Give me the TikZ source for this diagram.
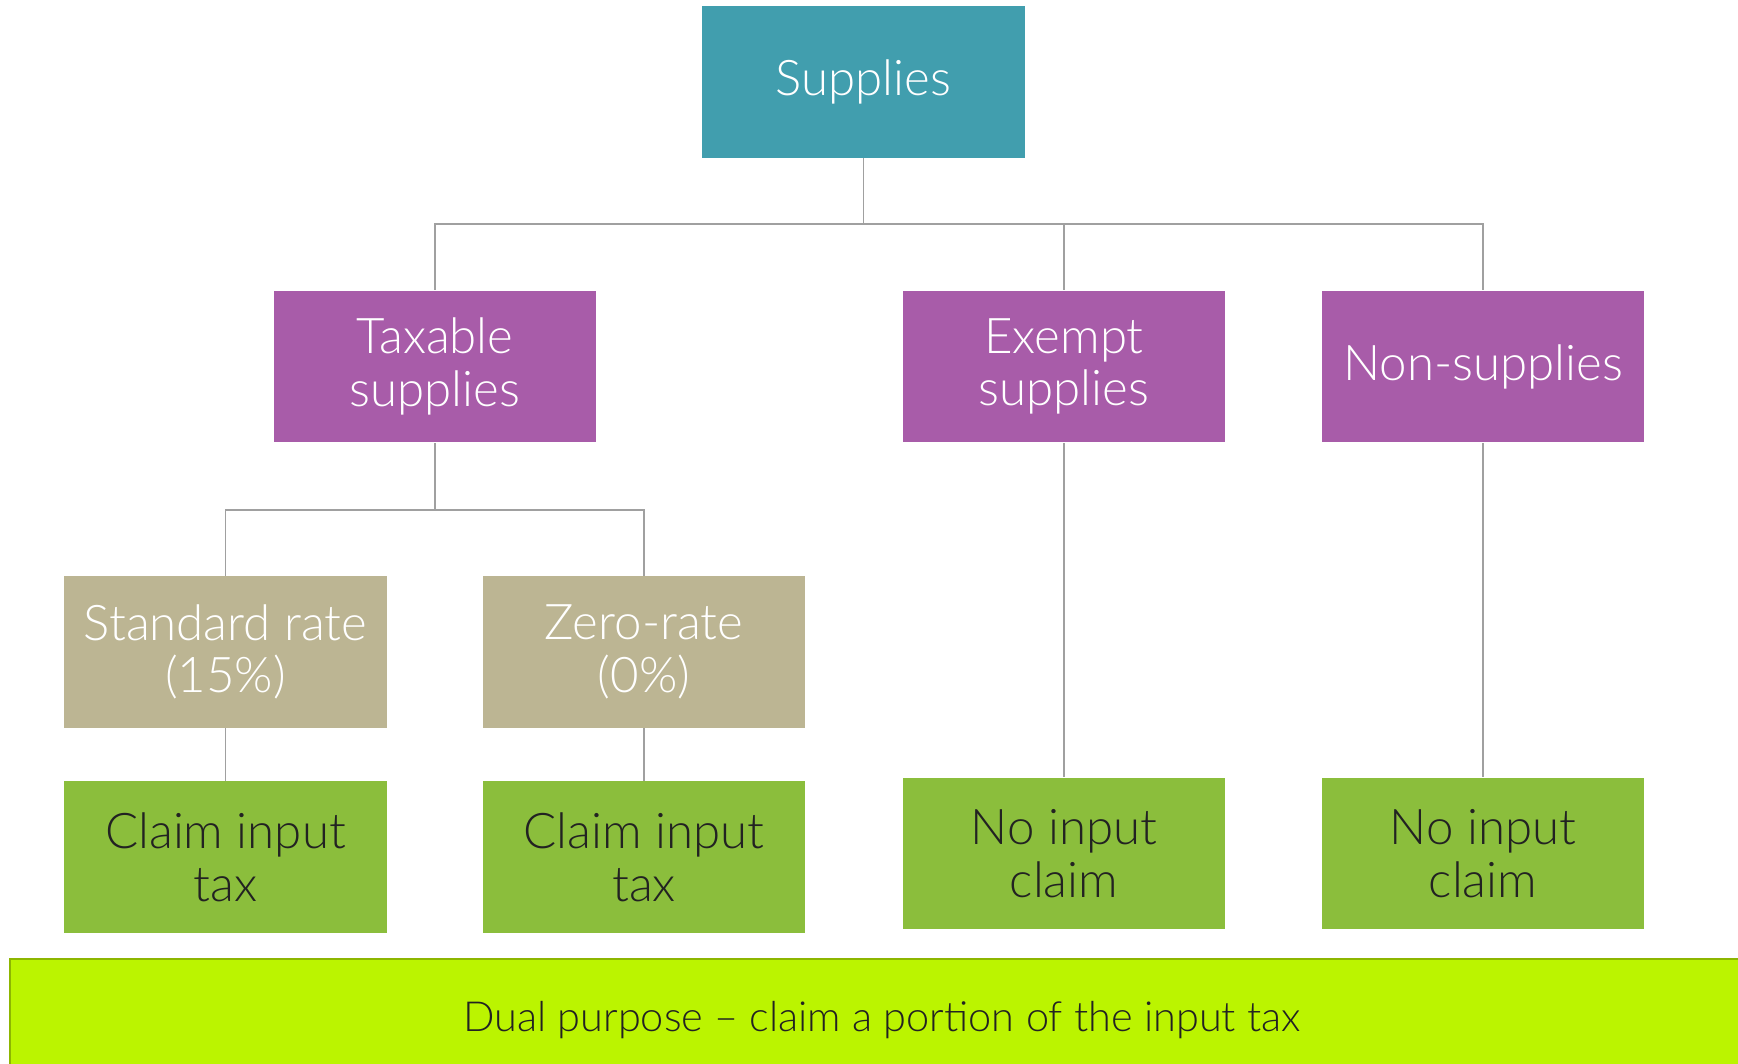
\documentclass[tikz,border=0pt]{standalone}
\usepackage{fontspec}
\setmainfont{Lato}[UprightFont=* Light]
\usepackage{tikz}
\usetikzlibrary{positioning}
\definecolor{suptop}{HTML}{419EAE}
\definecolor{supkind}{HTML}{A85CA9}
\definecolor{suprate}{HTML}{BCB593}
\definecolor{supclaim}{HTML}{8BBE3C}
\definecolor{dualfill}{HTML}{BBF400}
\definecolor{dualline}{HTML}{8DB600}
\definecolor{linkgray}{HTML}{A0A0A0}
\definecolor{darktext}{HTML}{222222}
\tikzstyle{supbox}=[rectangle, minimum width=6.46cm, minimum height=3.04cm, align=center, inner sep=0pt, font=\fontsize{28}{30}\selectfont]
\tikzstyle{suptop}=[supbox, fill=suptop, text=white]
\tikzstyle{supkind}=[supbox, fill=supkind, text=white]
\tikzstyle{suprate}=[supbox, fill=suprate, text=white]
\tikzstyle{supclaim}=[supbox, fill=supclaim, text=darktext]
\tikzstyle{link}=[draw=linkgray, line width=0.8pt]
\newcommand{\supnode}[4]{
	\node[#1] (#2) at (#3) {#4};}

\begin{document}
\begin{tikzpicture}[x=0.02cm, y=-0.02cm]
\useasboundingbox (0,0) rectangle (1738,1064);
\supnode{suptop}{sup}{863.5,82}{Supplies}
\supnode{supkind}{tax}{435,366.5}{Taxable\\supplies}
\supnode{supkind}{exe}{1064,366.5}{Exempt\\supplies}
\supnode{supkind}{non}{1483,366.5}{Non-supplies}
\supnode{suprate}{std}{225.5,652}{Standard rate\\(15\%)}
\supnode{suprate}{zer}{644,652}{Zero-rate\\(0\%)}
\supnode{supclaim}{cl1}{225.5,857}{Claim input\\tax}
\supnode{supclaim}{cl2}{644,857}{Claim input\\tax}
\supnode{supclaim}{no1}{1064,853.5}{No input\\claim}
\supnode{supclaim}{no2}{1483,853.5}{No input\\claim}
\coordinate (bus1) at (863.5,224);
\coordinate (bus2) at (435,510);
\path[link] (sup) -- (bus1);
\path[link] (bus1) -| (tax);
\path[link] (bus1) -| (exe);
\path[link] (bus1) -| (non);
\path[link] (tax) -- (bus2);
\path[link] (bus2) -| (std);
\path[link] (bus2) -| (zer);
\path[link] (std) -- (cl1);
\path[link] (zer) -- (cl2);
\path[link] (exe) -- (no1);
\path[link] (non) -- (no2);
% bottom bar runs off the page
\path[fill=dualfill, draw=dualline, line width=1.2pt] (10,959) rectangle (1760,1090);
\node[text=darktext, font=\fontsize{23.6}{26}\selectfont] (dual) at (882,1020) {Dual purpose -- claim a portion of the input tax};
\end{tikzpicture}
\end{document}
